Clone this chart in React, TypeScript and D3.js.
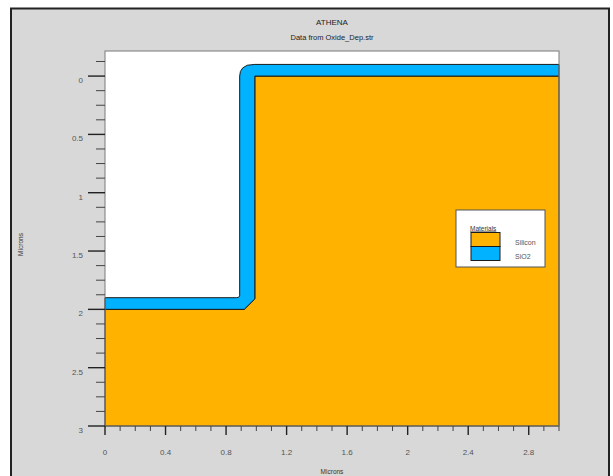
import React from "react";
import * as d3 from "d3";

// ---- data (microns) ----
const siliconX = [0, 0.92, 0.99, 0.99, 3, 3, 0];
const siliconY = [2.0, 2.0, 1.91, 0, 0, 3, 3];

const oxideX = [0, 0.87, 0.883, 0.89, 0.89, 0.895, 0.91, 0.94, 0.99, 3, 3, 0.99, 0.99, 0.92, 0];
const oxideY = [1.9, 1.9, 1.896, 1.885, 0.0, -0.04, -0.07, -0.093, -0.1, -0.1, 0, 0, 1.91, 2.0, 2.0];

const yMajor = [0, 0.5, 1, 1.5, 2, 2.5, 3];
const yMajorLabels = ["0", "0.5", "1", "1.5", "2", "2.5", "3"];
const yMinor = [-0.125, 0.125, 0.25, 0.375, 0.625, 0.75, 0.875, 1.125, 1.25, 1.375, 1.625, 1.75, 1.875, 2.125, 2.25, 2.375, 2.625, 2.75, 2.875];
const xMajor = [0, 0.4, 0.8, 1.2, 1.6, 2, 2.4, 2.8];
const xMajorLabels = ["0", "0.4", "0.8", "1.2", "1.6", "2", "2.4", "2.8"];
const xMinor = [0.1, 0.2, 0.3, 0.5, 0.6, 0.7, 0.9, 1.0, 1.1, 1.3, 1.4, 1.5, 1.7, 1.8, 1.9, 2.1, 2.2, 2.3, 2.5, 2.6, 2.7, 2.9, 3.0];

const legendItems = ["Silicon", "SiO2"];
const legendColors = ["#ffb200", "#00b2ff"];

const W = 613;
const H = 476;
const L = 105, R = 559, T = 51, B = 426;
const FONT = "'Liberation Sans', Arial, Helvetica, sans-serif";

export default function App() {
  const x = d3.scaleLinear().domain([0, 3]).range([L, R]);
  const y = d3.scaleLinear().domain([-0.215, 3]).range([T, B]);
  const line = d3
    .line<[number, number]>()
    .x((d) => x(d[0]))
    .y((d) => y(d[1]));
  const siPts = siliconX.map((v, i) => [v, siliconY[i]] as [number, number]);
  const oxPts = oxideX.map((v, i) => [v, oxideY[i]] as [number, number]);

  return (
    <svg
      width={W}
      height={H}
      style={{ position: "fixed", left: 0, top: 0 }}
      fontFamily={FONT}
    >
      <rect x={0} y={0} width={W} height={H} fill="#ffffff" />
      <rect x={11} y={8.5} width={598} height={475} fill="#d8d8d8" stroke="#222" strokeWidth={2} />

      <text x={(L + R) / 2} y={25} fontSize={8} textAnchor="middle" fill="#222">ATHENA</text>
      <text x={(L + R) / 2} y={40} fontSize={7.5} textAnchor="middle" fill="#222">Data from Oxide_Dep.str</text>

      <rect x={L} y={T} width={R - L} height={B - T} fill="#ffffff" />
      <path d={(line(siPts) || "") + "Z"} fill="#ffb200" stroke="#1a1a1a" strokeWidth={1} strokeLinejoin="round" />
      <path d={(line(oxPts) || "") + "Z"} fill="#00b2ff" stroke="#1a1a1a" strokeWidth={1} strokeLinejoin="round" />
      <rect x={L} y={T} width={R - L} height={B - T} fill="none" stroke="#7a7a7a" strokeWidth={1} />

      {/* y axis ticks */}
      {yMajor.map((v, i) => (
        <g key={"ym" + i}>
          <line x1={L - 17} x2={L} y1={y(v)} y2={y(v)} stroke="#222" strokeWidth={1.4} />
          <text x={83} y={y(v) + 7} fontSize={8} textAnchor="end" fill="#555">{yMajorLabels[i]}</text>
        </g>
      ))}
      {yMinor.map((v, i) => (
        <line key={"yn" + i} x1={L - 9} x2={L} y1={y(v)} y2={y(v)} stroke="#444" strokeWidth={1} />
      ))}

      {/* x axis ticks */}
      {xMajor.map((v, i) => (
        <g key={"xm" + i}>
          <line x1={x(v)} x2={x(v)} y1={B} y2={B + 9} stroke="#222" strokeWidth={1.4} />
          <text x={x(v)} y={454.5} fontSize={8} textAnchor="middle" fill="#555">{xMajorLabels[i]}</text>
        </g>
      ))}
      {xMinor.map((v, i) => (
        <line key={"xn" + i} x1={x(v)} x2={x(v)} y1={B} y2={B + 5} stroke="#444" strokeWidth={1} />
      ))}

      <text x={(L + R) / 2} y={474} fontSize={6.5} textAnchor="middle" fill="#333">Microns</text>
      <text transform={`translate(23, ${(T + B) / 2 + 6}) rotate(-90)`} fontSize={6.5} textAnchor="middle" fill="#333">Microns</text>

      {/* legend */}
      <rect x={456} y={210} width={89} height={57} fill="#ffffff" stroke="#555" strokeWidth={1} />
      <text x={470} y={230.5} fontSize={6.5} fill="#333" textDecoration="underline">Materials</text>
      {legendItems.map((name, i) => (
        <g key={name}>
          <rect x={471} y={232.5 + i * 14} width={29} height={14} fill={legendColors[i]} stroke="#1a1a1a" strokeWidth={1} />
          <text x={515} y={245 + i * 14} fontSize={7} fill="#555">{name}</text>
        </g>
      ))}
    </svg>
  );
}
